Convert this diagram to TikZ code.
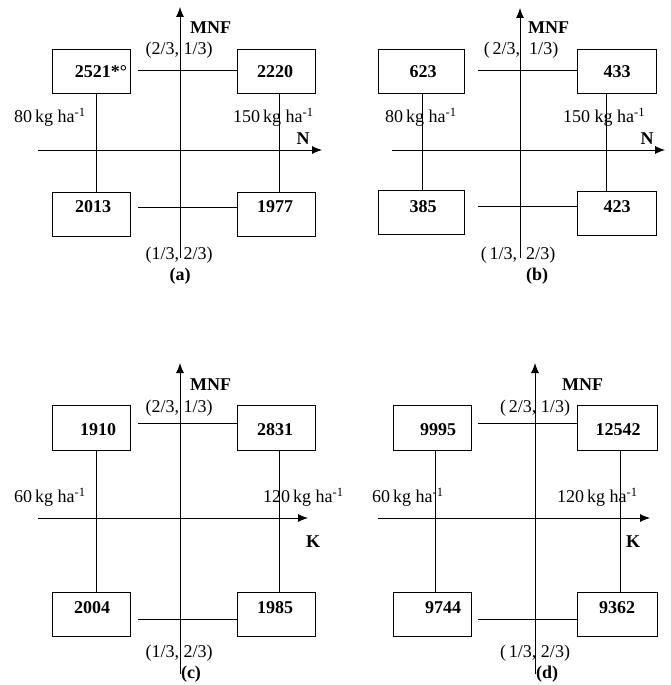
\documentclass[tikz,border=0pt]{standalone}
\usepackage{fontspec}
\setmainfont{Liberation Serif}
\usetikzlibrary{arrows.meta}
\begin{document}
\begin{tikzpicture}[x=1pt,y=-1pt,
  box/.style={draw,line width=0.8pt,inner sep=0pt,minimum height=44pt,minimum width=78pt},
  val/.style={font=\bfseries,inner sep=0pt},
  lab/.style={inner sep=0pt},
  axis/.style={line width=0.8pt,-{Latex[length=10pt,width=8pt]}},
  conn/.style={line width=0.8pt}]
\useasboundingbox (0,0) rectangle (670,685);
\fontsize{18}{21}\selectfont
% ================= (a)
\node[box] (aTL) at (91,71.5) {};
\node[box] (aTR) at (276,71.5) {};
\node[box] (aBL) at (91,214.5) {};
\node[box] (aBR) at (276,214.5) {};
\node[val] (aTLt) at (101,72) {2521*°};
\node[val] (aTRt) at (275,72) {2220};
\node[val] (aBLt) at (93,207) {2013};
\node[val] (aBRt) at (275,207) {1977};
\coordinate (aY0) at (180,258); \coordinate (aY1) at (180,7);
\coordinate (aX0) at (38,150); \coordinate (aX1) at (322,150);
\draw[axis] (aY0) -- (aY1);
\draw[axis] (aX0) -- (aX1);
\coordinate (ah1) at (138,70); \coordinate (ah2) at (138,207);
\coordinate (av1) at (96,0); \coordinate (av2) at (279,0);
\draw[conn] (ah1) -- (ah1 -| aTR.west);
\draw[conn] (ah2) -- (ah2 -| aBR.west);
\draw[conn] (aTL.south -| av1) -- (aBL.north -| av1);
\draw[conn] (aTR.south -| av2) -- (aBR.north -| av2);
\node[lab,anchor=west] (aMNF) at (190,28) {\bfseries MNF};
\node[lab] (aq1) at (179,50) {(2/3, 1/3)};
\node[lab] (aq2) at (179,255) {(1/3, 2/3)};
\node[lab] (acap) at (180,276) {\bfseries (a)};
\node[lab] (aN) at (303,139) {\bfseries N};
\node[lab,anchor=west] (ar1) at (14,117) {80\,kg ha\textsuperscript{-1}};
\node[lab,anchor=west] (ar2) at (233,117) {150\,kg ha\textsuperscript{-1}};
% ================= (b)
\node[box,minimum width=86pt] (bTL) at (421,71) {};
\node[box,minimum width=79pt] (bTR) at (616.5,71) {};
\node[box,minimum width=86pt] (bBL) at (421,212.5) {};
\node[box,minimum width=79pt] (bBR) at (616.5,213.5) {};
\node[val] (bTLt) at (423,72) {623};
\node[val] (bTRt) at (617,72) {433};
\node[val] (bBLt) at (423,207) {385};
\node[val] (bBRt) at (617,207) {423};
\coordinate (bY0) at (520,258); \coordinate (bY1) at (520,8);
\coordinate (bX0) at (392,150); \coordinate (bX1) at (665,150);
\draw[axis] (bY0) -- (bY1);
\draw[axis] (bX0) -- (bX1);
\coordinate (bh1) at (478,70); \coordinate (bh2) at (478,206);
\coordinate (bv1) at (422,0); \coordinate (bv2) at (606,0);
\draw[conn] (bh1) -- (bh1 -| bTR.west);
\draw[conn] (bh2) -- (bh2 -| bBR.west);
\draw[conn] (bTL.south -| bv1) -- (bBL.north -| bv1);
\draw[conn] (bTR.south -| bv2) -- (bBR.north -| bv2);
\node[lab,anchor=west] (bMNF) at (528,28) {\bfseries MNF};
\node[lab] (bq1) at (521,50) {(\,2/3,~~1/3)};
\node[lab] (bq2) at (518,255) {(\,1/3,~~2/3)};
\node[lab] (bcap) at (537,276) {\bfseries (b)};
\node[lab] (bN) at (647,139) {\bfseries N};
\node[lab,anchor=west] (br1) at (385,117) {80\,kg ha\textsuperscript{-1}};
\node[lab,anchor=west] (br2) at (563,117) {150 kg ha\textsuperscript{-1}};
% ================= (c)
\node[box,minimum height=45pt] (cTL) at (91,427.5) {};
\node[box,minimum height=45pt] (cTR) at (276,427.5) {};
\node[box] (cBL) at (91,614) {};
\node[box] (cBR) at (276,614) {};
\node[val] (cTLt) at (98,430) {1910};
\node[val] (cTRt) at (275,430) {2831};
\node[val] (cBLt) at (92,608) {2004};
\node[val] (cBRt) at (275,608) {1985};
\coordinate (cY0) at (180,674); \coordinate (cY1) at (180,363);
\coordinate (cX0) at (38,518); \coordinate (cX1) at (308,518);
\draw[axis] (cY0) -- (cY1);
\draw[axis] (cX0) -- (cX1);
\coordinate (ch1) at (138,423); \coordinate (ch2) at (138,619);
\coordinate (cv1) at (96,0); \coordinate (cv2) at (279,0);
\draw[conn] (ch1) -- (ch1 -| cTR.west);
\draw[conn] (ch2) -- (ch2 -| cBR.west);
\draw[conn] (cTL.south -| cv1) -- (cBL.north -| cv1);
\draw[conn] (cTR.south -| cv2) -- (cBR.north -| cv2);
\node[lab,anchor=west] (cMNF) at (190,385) {\bfseries MNF};
\node[lab] (cq1) at (179,408) {(2/3, 1/3)};
\node[lab] (cq2) at (179,653) {(1/3, 2/3)};
\node[lab] (ccap) at (191,674) {\bfseries (c)};
\node[lab] (cK) at (313,542) {\bfseries K};
\node[lab,anchor=west] (cr1) at (14,497) {60\,kg ha\textsuperscript{-1}};
\node[lab,anchor=west] (cr2) at (263,497) {120\,kg ha\textsuperscript{-1}};
% ================= (d)
\node[box,minimum height=45pt] (dTL) at (432,427.5) {};
\node[box,minimum height=45pt,minimum width=80pt] (dTR) at (617,427.5) {};
\node[box] (dBL) at (432,614) {};
\node[box,minimum width=80pt] (dBR) at (617,614) {};
\node[val] (dTLt) at (438,430) {9995};
\node[val] (dTRt) at (618,430) {12542};
\node[val] (dBLt) at (443,608) {9744};
\node[val] (dBRt) at (617,608) {9362};
\coordinate (dY0) at (535,674); \coordinate (dY1) at (535,363);
\coordinate (dX0) at (378,518); \coordinate (dX1) at (650,518);
\draw[axis] (dY0) -- (dY1);
\draw[axis] (dX0) -- (dX1);
\coordinate (dh1) at (478,423); \coordinate (dh2) at (478,619);
\coordinate (dv1) at (435,0); \coordinate (dv2) at (620,0);
\draw[conn] (dh1) -- (dh1 -| dTR.west);
\draw[conn] (dh2) -- (dh2 -| dBR.west);
\draw[conn] (dTL.south -| dv1) -- (dBL.north -| dv1);
\draw[conn] (dTR.south -| dv2) -- (dBR.north -| dv2);
\node[lab,anchor=west] (dMNF) at (562,385) {\bfseries MNF};
\node[lab] (dq1) at (535,408) {(\,2/3, 1/3)};
\node[lab] (dq2) at (535,653) {(\,1/3, 2/3)};
\node[lab] (dcap) at (547,674) {\bfseries (d)};
\node[lab] (dK) at (633,542) {\bfseries K};
\node[lab,anchor=west] (dr1) at (372,497) {60\,kg ha\textsuperscript{-1}};
\node[lab,anchor=west] (dr2) at (557,497) {120\,kg ha\textsuperscript{-1}};
\end{tikzpicture}
\end{document}
